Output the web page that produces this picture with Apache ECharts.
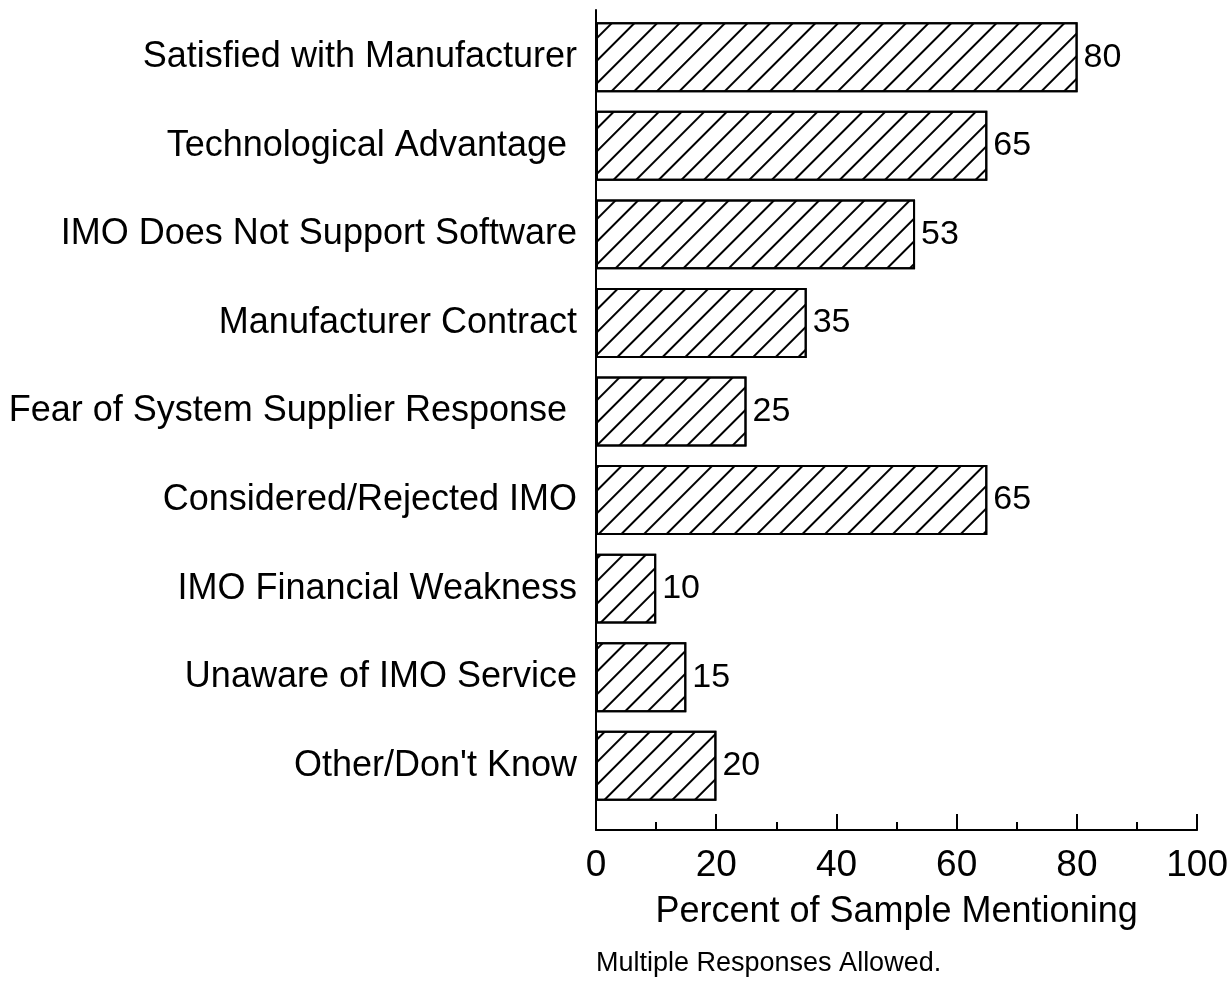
<!DOCTYPE html>
<html>
<head>
<meta charset="utf-8">
<script src="https://cdn.jsdelivr.net/npm/echarts@6/dist/echarts.min.js"></script>
<style>
  html, body { margin: 0; padding: 0; background: #fff; }
  #main { width: 1231px; height: 990px; }
</style>
</head>
<body>
<div id="main"></div>
<script>
var categories = [
  "Satisfied with Manufacturer",
  "Technological Advantage ",
  "IMO Does Not Support Software",
  "Manufacturer Contract",
  "Fear of System Supplier Response ",
  "Considered/Rejected IMO",
  "IMO Financial Weakness",
  "Unaware of IMO Service",
  "Other/Don't Know"
];
var percents = [80, 65, 53, 35, 25, 65, 10, 15, 20];
var xTicks = [0, 20, 40, 60, 80, 100];

var font = "Liberation Sans, Arial, Helvetica, sans-serif";
var myChart = echarts.init(document.getElementById("main"));
myChart.setOption({
  backgroundColor: "#fff",
  animation: false,
  title: {
    text: "Multiple Responses Allowed.",
    left: 596,
    top: 950,
    padding: 0,
    textStyle: { fontFamily: font, fontSize: 27, fontWeight: "normal", color: "#000" }
  },
  grid: [
    { left: 596, right: 33, top: 13, height: 797 },
    { left: 596, right: 33, top: 10, height: 820 }
  ],
  xAxis: [
    { gridIndex: 0, type: "value", min: 0, max: 100, show: false },
    {
      gridIndex: 1,
      type: "value",
      min: 0,
      max: 100,
      interval: 20,
      name: "Percent of Sample Mentioning",
      nameLocation: "middle",
      nameGap: 64,
      nameTextStyle: { fontFamily: font, fontSize: 36, color: "#000" },
      axisLine: { show: true, lineStyle: { color: "#000", width: 2 } },
      axisTick: { show: true, inside: true, length: 16, lineStyle: { color: "#000", width: 2 } },
      minorTick: { show: true, splitNumber: 2, length: 8, lineStyle: { color: "#000", width: 2 } },
      axisLabel: {
        fontFamily: font, fontSize: 37, color: "#000", margin: 17,
        formatter: function (v) { return xTicks.indexOf(v) >= 0 ? String(v) : ""; }
      },
      splitLine: { show: false }
    }
  ],
  yAxis: [
    {
      gridIndex: 0,
      type: "category",
      inverse: true,
      data: categories,
      axisLine: { show: false },
      axisTick: { show: false },
      axisLabel: { fontFamily: font, fontSize: 36, color: "#000", margin: 19 }
    },
    {
      gridIndex: 1,
      type: "value",
      axisLine: { show: true, lineStyle: { color: "#000", width: 2 } },
      axisTick: { show: false },
      axisLabel: { show: false },
      splitLine: { show: false }
    }
  ],
  series: [
    {
      type: "bar",
      xAxisIndex: 0,
      yAxisIndex: 0,
      data: percents,
      barCategoryGap: "21%",
      itemStyle: {
        color: "#fff",
        borderColor: "#000",
        borderWidth: 2,
        decal: {
          symbol: "rect",
          symbolSize: 1,
          color: "#000",
          dashArrayX: [1, 0],
          dashArrayY: [1.6, 14],
          rotation: -Math.PI / 4
        }
      },
      label: {
        show: true,
        position: "right",
        distance: 6,
        fontFamily: font,
        fontSize: 34,
        color: "#000"
      }
    }
  ]
});
</script>
</body>
</html>
